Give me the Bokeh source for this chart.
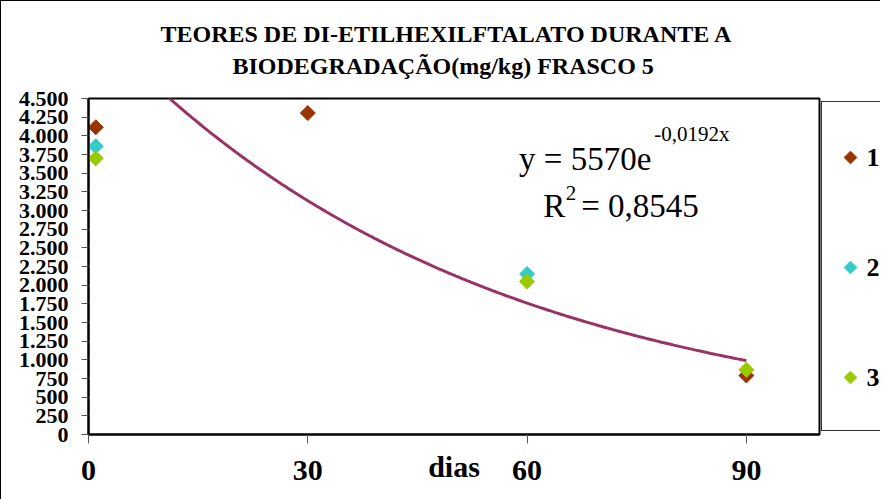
import numpy as np
from bokeh.plotting import figure
from bokeh.layouts import row, column
from bokeh.models import FixedTicker, Label, Title, Range1d, Spacer
from bokeh.core.properties import value
from bokeh.embed import file_html
from bokeh.resources import INLINE

# ---- data ----
titulo_1 = "TEORES DE DI-ETILHEXILFTALATO DURANTE A"
titulo_2 = "BIODEGRADAÇÃO(mg/kg) FRASCO 5"
eixo_x = "dias"
x_ticks = [0, 30, 60, 90]
y_ticks = [0, 250, 500, 750, 1000, 1250, 1500, 1750, 2000, 2250,
           2500, 2750, 3000, 3250, 3500, 3750, 4000, 4250, 4500]
y_tick_labels = ["0", "250", "500", "750", "1.000", "1.250", "1.500", "1.750",
                 "2.000", "2.250", "2.500", "2.750", "3.000", "3.250", "3.500",
                 "3.750", "4.000", "4.250", "4.500"]

serie_nomes = ["1", "2", "3"]
serie_cores = ["#993300", "#33CCCC", "#99CC00"]
serie_1_dias = [1, 30, 90]
serie_1_teor = [4115, 4305, 790]
serie_2_dias = [1, 60]
serie_2_teor = [3860, 2150]
serie_3_dias = [1, 60, 90]
serie_3_teor = [3700, 2050, 866]

# exponential trend line shown on the chart: y = 5570 e^(-0.0192 x)
trend_a = 5570
trend_b = -0.0192
trend_ini = 0
trend_fim = 90
eq_main = "y = 5570e"
eq_exp = "-0,0192x"
r2_r = "R"
r2_sup = "2"
r2_val = "= 0,8545"

FONT = "Liberation Serif"

p = figure(width=820, height=498,
           x_range=Range1d(0, 100), y_range=Range1d(0, 4500),
           output_backend="svg", toolbar_location=None,
           min_border_left=87, min_border_right=2,
           min_border_top=97, min_border_bottom=65,
           background_fill_color="white", border_fill_color="white")

p.xgrid.visible = False
p.ygrid.visible = False
p.outline_line_color = "black"
p.outline_line_width = 2

# axes
p.xaxis.ticker = FixedTicker(ticks=x_ticks)
p.xaxis.minor_tick_line_color = None
p.xaxis.major_tick_in = 0
p.xaxis.major_tick_out = 9
p.xaxis.major_tick_line_color = "#555555"
p.xaxis.axis_line_width = 2
p.xaxis.axis_line_color = "black"
p.xaxis.major_label_standoff = 17
p.xaxis.major_label_text_font = FONT
p.xaxis.major_label_text_font_style = "bold"
p.xaxis.major_label_text_font_size = "30px"
p.xaxis.major_label_text_color = "black"
p.xaxis.axis_label = eixo_x
p.xaxis.axis_label_standoff = -33
p.xaxis.axis_label_text_font = FONT
p.xaxis.axis_label_text_font_style = "bold"
p.xaxis.axis_label_text_font_size = "30px"
p.xaxis.axis_label_text_color = "black"

p.yaxis.ticker = FixedTicker(ticks=y_ticks)
p.yaxis.major_label_overrides = {float(t): l for t, l in zip(y_ticks, y_tick_labels)}
p.yaxis.minor_tick_line_color = None
p.yaxis.major_tick_in = 0
p.yaxis.major_tick_out = 7
p.yaxis.major_tick_line_color = "#555555"
p.yaxis.axis_line_width = 2
p.yaxis.axis_line_color = "black"
p.yaxis.major_label_standoff = 13
p.yaxis.major_label_text_font = FONT
p.yaxis.major_label_text_font_style = "bold"
p.yaxis.major_label_text_font_size = "22px"
p.yaxis.major_label_text_color = "black"

# titles (first added sits nearest the frame)
p.add_layout(Title(text=titulo_2, align="left", offset=144, text_font=FONT,
                   text_font_style="bold", text_font_size="24px",
                   text_color="black", standoff=40), "above")
p.add_layout(Title(text=titulo_1, align="left", offset=72, text_font=FONT,
                   text_font_style="bold", text_font_size="24px",
                   text_color="black", standoff=-32), "above")

# trend line
tx = np.linspace(trend_ini, trend_fim, 300)
ty = trend_a * np.exp(trend_b * tx)
p.line(tx, ty, line_color="#993366", line_width=3)

# series
for xs, ys, c in [(serie_1_dias, serie_1_teor, serie_cores[0]),
                  (serie_2_dias, serie_2_teor, serie_cores[1]),
                  (serie_3_dias, serie_3_teor, serie_cores[2])]:
    p.scatter(xs, ys, marker="square", angle=np.pi / 4, size=10.6,
              fill_color=c, line_color=c)

# equation annotation
dy = 200
p.add_layout(Label(x=58.9, y=3495 + dy, text=eq_main, text_font=FONT,
                   text_font_size="33px", text_baseline="alphabetic",
                   text_color="black"))
p.add_layout(Label(x=77.4, y=3830 + dy, text=eq_exp, text_font=FONT,
                   text_font_size="21px", text_baseline="alphabetic",
                   text_color="black"))
p.add_layout(Label(x=62.2, y=2866 + dy, text=r2_r, text_font=FONT,
                   text_font_size="33px", text_baseline="alphabetic",
                   text_color="black"))
p.add_layout(Label(x=65.3, y=3040 + dy, text=r2_sup, text_font=FONT,
                   text_font_size="21px", text_baseline="alphabetic",
                   text_color="black"))
p.add_layout(Label(x=67.4, y=2866 + dy, text=r2_val, text_font=FONT,
                   text_font_size="33px", text_baseline="alphabetic",
                   text_color="black"))

# ---- legend panel (separate box to the right of the plot area) ----
n = len(serie_nomes)
leg_y = [n - i - 0.5 for i in range(n)]
lg = figure(width=59, height=330, x_range=Range1d(0, 59), y_range=Range1d(0, n),
            output_backend="svg", toolbar_location=None,
            x_axis_location=None, y_axis_location=None,
            min_border_left=0, min_border_right=0, min_border_top=0, min_border_bottom=0,
            background_fill_color="white", border_fill_color="white")
lg.title.visible = False
lg.styles = {"border-left": "1px solid #333333", "border-top": "1px solid #333333",
             "border-bottom": "1px solid #333333"}
lg.outline_line_color = None
lg.xgrid.visible = False
lg.ygrid.visible = False
lg.scatter(x=[28] * n, y=leg_y, marker="square", angle=np.pi / 4, size=9,
           fill_color=serie_cores, line_color=serie_cores)
lg.text(x=[44] * n, y=leg_y, text=serie_nomes, text_font=value(FONT),
        text_font_style="bold", text_font_size="26px", text_baseline="middle",
        text_color="black")

legend_col = column(Spacer(width=59, height=100), lg, spacing=0)
layout = row(p, legend_col, spacing=0)
layout.styles = {"border-left": "1px solid black", "border-top": "1px solid black"}

open("out.html", "w").write(file_html(layout, INLINE))
